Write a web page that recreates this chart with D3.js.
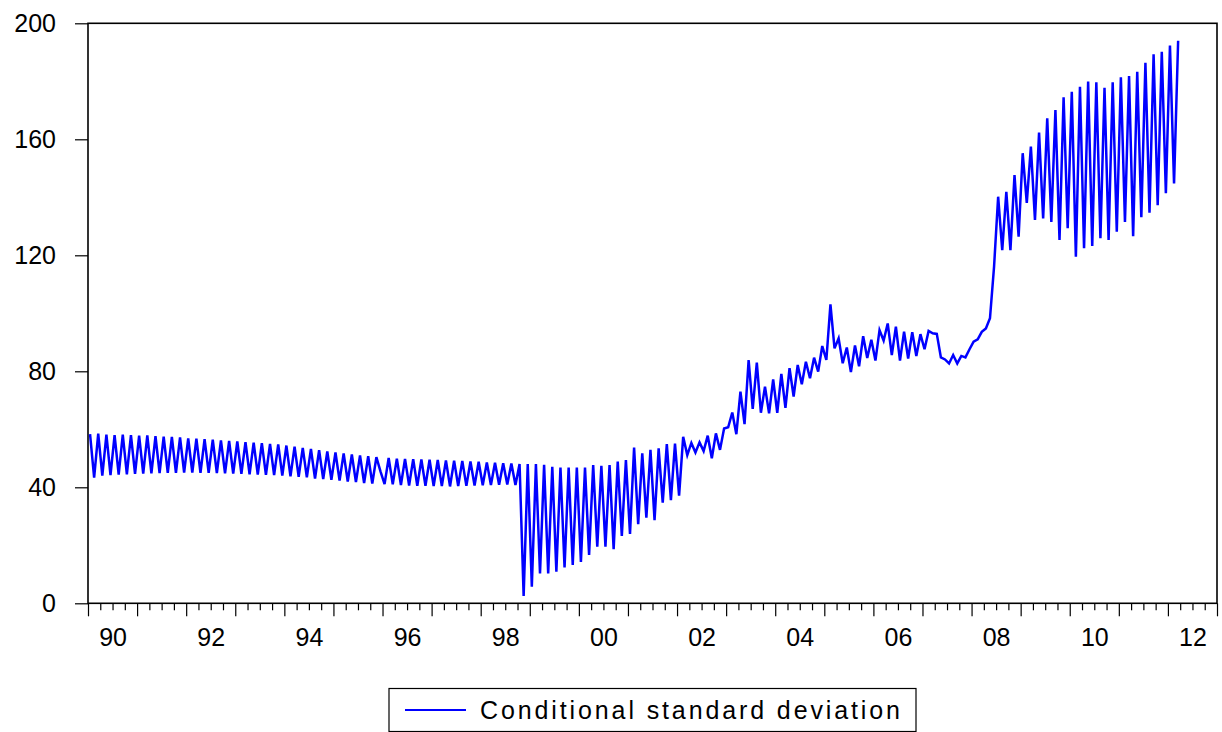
<!DOCTYPE html>
<html>
<head>
<meta charset="utf-8">
<script src="https://cdn.jsdelivr.net/npm/d3@7/dist/d3.min.js"></script>
<style>
  html, body { margin: 0; padding: 0; background: #ffffff; }
  svg { display: block; }
  text { font-family: "Liberation Sans", Arial, sans-serif; fill: #000; }
</style>
</head>
<body>
<script>
// ---------------- data (monthly, starting 1990M1) ----------------
const startYear = 1990;
const endYear = 2012;            // axis runs through the end of 2012
const seriesName = "Conditional standard deviation";
const yTicks = [0, 40, 80, 120, 160, 200];
const xTickLabels = ["90","92","94","96","98","00","02","04","06","08","10","12"];

const v1990 = [58.3, 43.3, 58.5, 44.0, 58.2, 44.2, 58.0, 44.4, 58.2, 44.5, 58.0, 44.6];
const v1991 = [57.8, 44.7, 57.9, 44.8, 57.6, 44.9, 57.5, 45.0, 57.4, 45.0, 57.2, 45.1];
const v1992 = [56.9, 45.1, 56.8, 45.0, 56.6, 45.0, 56.4, 44.9, 56.2, 44.8, 56.0, 44.7];
const v1993 = [55.8, 44.6, 55.6, 44.5, 55.4, 44.4, 55.2, 44.3, 55.0, 44.2, 54.8, 44.0];
const v1994 = [54.4, 43.8, 54.0, 43.6, 53.6, 43.4, 53.2, 43.0, 52.8, 42.8, 52.4, 42.6];
const v1995 = [52.0, 42.3, 51.7, 42.0, 51.3, 41.8, 51.0, 41.5, 50.7, 41.3, 50.4, 45.5];
const v1996 = [41.1, 50.1, 41.0, 49.9, 40.8, 49.8, 40.6, 49.7, 40.5, 49.6, 40.5, 49.5];
const v1997 = [40.4, 49.4, 40.4, 49.3, 40.3, 49.2, 40.4, 49.1, 40.5, 48.9, 40.6, 48.8];
const v1998 = [40.7, 48.6, 40.8, 48.5, 40.9, 48.3, 41.0, 48.2, 40.8, 48.0, 2.5, 48.0];
const v1999 = [5.7, 48.0, 10.3, 47.8, 10.3, 47.1, 10.9, 46.8, 12.4, 46.8, 13.2, 46.8];
const v2000 = [14.3, 46.8, 16.7, 47.7, 19.5, 47.4, 19.5, 47.7, 18.7, 48.9, 23.2, 49.4];
const v2001 = [23.9, 53.7, 27.3, 51.7, 29.5, 52.9, 28.7, 53.4, 34.7, 54.9, 35.6, 55.1];
const v2002 = [37.1, 57.4, 51.1, 55.3, 52.0, 55.5, 52.5, 57.8, 50.0, 58.6, 52.9, 60.3];
const v2003 = [60.7, 65.8, 58.3, 73.0, 61.8, 83.9, 67.0, 83.0, 65.7, 74.7, 65.5, 77.2];
const v2004 = [65.7, 79.1, 67.4, 81.1, 71.3, 82.2, 75.5, 83.3, 77.6, 84.7, 79.9, 88.7];
const v2005 = [83.9, 103.1, 87.9, 91.4, 82.8, 88.2, 79.7, 88.9, 81.7, 92.1, 84.6, 90.9];
const v2006 = [83.7, 94.2, 90.6, 96.5, 85.6, 95.4, 83.7, 93.7, 84.4, 93.5, 85.3, 92.8];
const v2007 = [87.6, 93.9, 93.1, 92.9, 84.8, 84.1, 82.7, 85.6, 82.7, 85.3, 84.8, 87.6];
const v2008 = [90.2, 91.0, 93.6, 94.8, 98.3, 116.1, 140.2, 121.8, 141.9, 121.8, 147.7, 126.4];
const v2009 = [155.2, 138.1, 157.5, 132.2, 162.3, 132.7, 167.2, 131.5, 170.1, 125.3, 174.5, 129.3];
const v2010 = [176.4, 119.5, 178.1, 122.4, 179.9, 123.2, 179.7, 125.9, 177.8, 125.3, 179.7, 128.1];
const v2011 = [181.4, 131.5, 181.8, 126.6, 183.3, 133.1, 186.4, 134.7, 189.3, 137.3, 190.2, 141.4];
const v2012 = [192.3, 144.8, 194.0];

const values = [].concat(v1990, v1991, v1992, v1993, v1994, v1995, v1996, v1997, v1998,
  v1999, v2000, v2001, v2002, v2003, v2004, v2005, v2006, v2007, v2008, v2009, v2010, v2011, v2012);

// ---------------- layout ----------------
const W = 1222, H = 732;
const plot = { left: 88, right: 1217, top: 23.3, bottom: 603.3 };
const nMonths = (endYear - startYear + 1) * 12;

const svg = d3.select("body").append("svg").attr("width", W).attr("height", H);

const x = d3.scaleLinear().domain([0, nMonths]).range([plot.left, plot.right]);
const y = d3.scaleLinear().domain([0, 200]).range([plot.bottom, plot.top]);

// y axis (ticks outside, left)
const yAxis = d3.axisLeft(y).tickValues(yTicks).tickSize(13).tickPadding(19).tickFormat(d3.format("d"));
const gy = svg.append("g").attr("transform", `translate(${plot.left},0)`).call(yAxis);
gy.select(".domain").remove();
gy.selectAll(".tick line").attr("stroke", "#000").attr("stroke-width", 1.2);
gy.selectAll(".tick text").style("font-size", "25px").attr("font-family", "Liberation Sans, Arial, sans-serif");

// x axis: quarter ticks, year ticks, and labels every 2 years
const quarterTicks = d3.range(0, nMonths + 1, 3).filter(m => m % 12 !== 0);
const yearTicks = d3.range(0, nMonths + 1, 12);
const labelPos = d3.range(0, nMonths, 24).map(m => m + 6);

const gxMinor = svg.append("g").attr("transform", `translate(0,${plot.bottom})`)
  .call(d3.axisBottom(x).tickValues(quarterTicks).tickSize(7).tickFormat(""));
const gxMajor = svg.append("g").attr("transform", `translate(0,${plot.bottom})`)
  .call(d3.axisBottom(x).tickValues(yearTicks).tickSize(13).tickFormat(""));
const gxLab = svg.append("g").attr("transform", `translate(0,${plot.bottom})`)
  .call(d3.axisBottom(x).tickValues(labelPos).tickSize(0).tickPadding(25)
    .tickFormat((d, i) => xTickLabels[i]));
[gxMinor, gxMajor, gxLab].forEach(g => g.select(".domain").remove());
svg.selectAll("g .tick line").attr("stroke", "#000").attr("stroke-width", 1.2);
gxLab.selectAll(".tick text").style("font-size", "25px").attr("font-family", "Liberation Sans, Arial, sans-serif");

// frame
svg.append("rect")
  .attr("x", plot.left).attr("y", plot.top)
  .attr("width", plot.right - plot.left).attr("height", plot.bottom - plot.top)
  .attr("fill", "none").attr("stroke", "#000").attr("stroke-width", 1.6);

// series line (observations drawn at mid-month)
const line = d3.line().x((d, i) => x(i + 0.5)).y(d => y(d));
svg.append("path").datum(values)
  .attr("d", line)
  .attr("fill", "none")
  .attr("stroke", "#0000ff")
  .attr("stroke-width", 2.5)
  .attr("stroke-linejoin", "miter");

// legend
const lg = svg.append("g");
lg.append("rect").attr("x", 389).attr("y", 688.5).attr("width", 527).attr("height", 43)
  .attr("fill", "#fff").attr("stroke", "#000").attr("stroke-width", 1.2);
lg.append("line").attr("x1", 405).attr("x2", 466).attr("y1", 710).attr("y2", 710)
  .attr("stroke", "#0000ff").attr("stroke-width", 2);
lg.append("text").attr("x", 480).attr("y", 719)
  .attr("textLength", 420).attr("lengthAdjust", "spacing")
  .style("font-size", "25px")
  .text(seriesName);
</script>
</body>
</html>
